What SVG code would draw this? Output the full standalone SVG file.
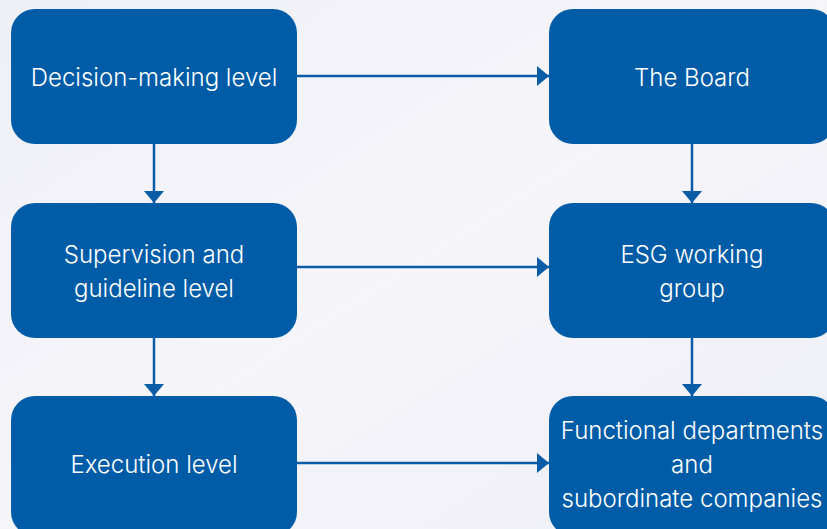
<svg xmlns="http://www.w3.org/2000/svg" width="827" height="529" viewBox="0 0 827 529">
<defs>
<linearGradient id="bg" x1="0" y1="0" x2="1" y2="1">
<stop offset="0" stop-color="#eff0f7"/>
<stop offset="0.5" stop-color="#f5f5fa"/>
<stop offset="1" stop-color="#eeeef6"/>
</linearGradient>
<marker id="ah" viewBox="0 0 12 20" refX="12" refY="10" markerWidth="12" markerHeight="20" markerUnits="userSpaceOnUse" orient="auto">
<path d="M0,0 L12,10 L0,20 Z" fill="#0b5ca7"/>
</marker>
<style>
.box{fill:#005ca7;}
.t{font-family:Inter,"Noto Sans",sans-serif;font-size:24px;fill:#ffffff;text-anchor:middle;font-weight:300;}
.c{stroke:#0b5ca7;stroke-width:2.5;fill:none;marker-end:url(#ah);}
</style>
</defs>
<rect width="827" height="529" fill="url(#bg)"/>
<g id="connectors">
<line class="c" x1="297" y1="76" x2="549" y2="76"/>
<line class="c" x1="297" y1="267" x2="549" y2="267"/>
<line class="c" x1="297" y1="463" x2="549" y2="463"/>
<line class="c" x1="154" y1="144" x2="154" y2="203"/>
<line class="c" x1="154" y1="338" x2="154" y2="396"/>
<line class="c" x1="692" y1="144" x2="692" y2="203"/>
<line class="c" x1="692" y1="338" x2="692" y2="396"/>
</g>
<g id="n1"><rect class="box" x="11" y="9" width="286" height="135" rx="24"/><text class="t" x="154" y="85.5">Decision-making level</text></g>
<g id="n2"><rect class="box" x="11" y="203" width="286" height="135" rx="24"/><text class="t" x="154" y="263">Supervision and</text><text class="t" x="154" y="297">guideline level</text></g>
<g id="n3"><rect class="box" x="11" y="396" width="286" height="140" rx="24"/><text class="t" x="154" y="473">Execution level</text></g>
<g id="n4"><rect class="box" x="549" y="9" width="286" height="135" rx="24"/><text class="t" x="692" y="85.5">The Board</text></g>
<g id="n5"><rect class="box" x="549" y="203" width="286" height="135" rx="24"/><text class="t" x="692" y="263">ESG working</text><text class="t" x="692" y="297">group</text></g>
<g id="n6"><rect class="box" x="549" y="396" width="286" height="140" rx="24"/><text class="t" x="692" y="439">Functional departments</text><text class="t" x="692" y="473">and</text><text class="t" x="692" y="507">subordinate companies</text></g>
</svg>
